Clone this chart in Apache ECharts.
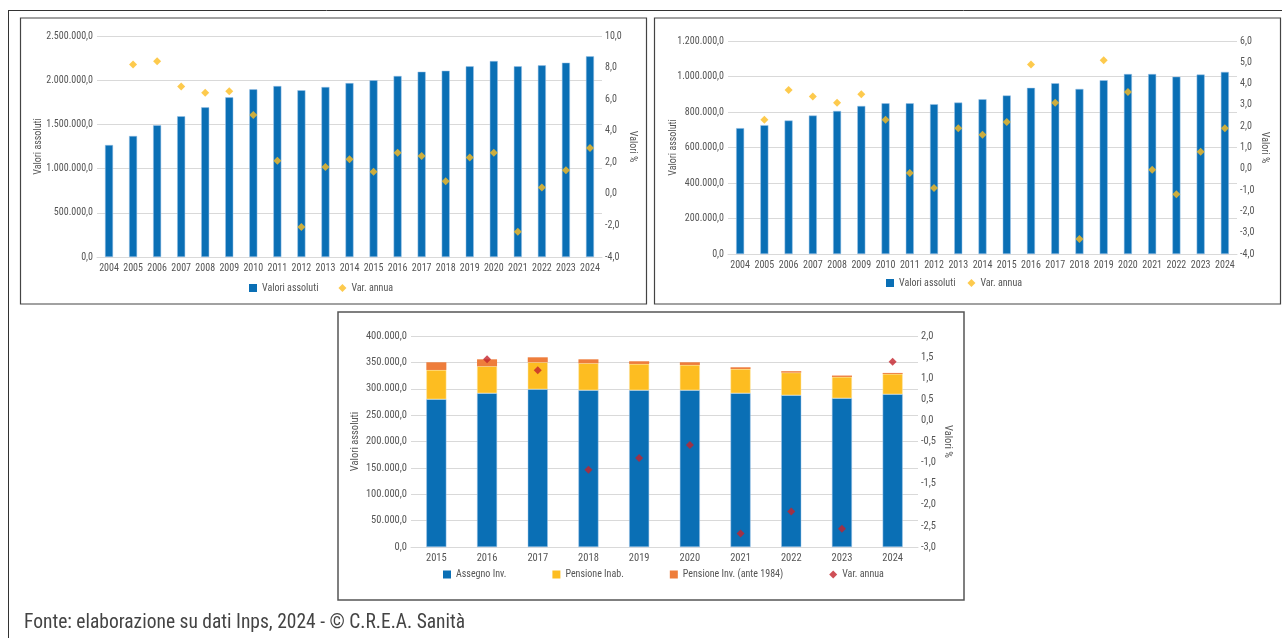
<!DOCTYPE html>
<html>
<head>
<meta charset="utf-8">
<script src="https://cdn.jsdelivr.net/npm/echarts@6/dist/echarts.min.js"></script>
<style>
  html, body { margin: 0; padding: 0; background: #fff; }
  #main { width: 1282px; height: 638px; }
</style>
</head>
<body>
<div id="main"></div>
<script>
// dati
var anniLungo = ['2004', '2005', '2006', '2007', '2008', '2009', '2010', '2011', '2012', '2013', '2014',
    '2015', '2016', '2017', '2018', '2019', '2020', '2021', '2022', '2023', '2024'];
var valoriSx = [1267000, 1369000, 1490000, 1592000, 1693000, 1806000, 1897000, 1934000, 1886000, 1923000, 1967000,
    1999000, 2048000, 2096000, 2107000, 2157000, 2217000, 2157000, 2168000, 2198000, 2270000];
var varSx = ['-', 8.2, 8.4, 6.8, 6.4, 6.5, 5.0, 2.1, -2.1, 1.7, 2.2, 1.4, 2.6, 2.4, 0.8, 2.3, 2.6, -2.4, 0.4, 1.5, 2.9];

var valoriDx = [709000, 726000, 752000, 780000, 806000, 834000, 849000, 849000, 844000, 853000, 872000,
    893000, 936000, 962000, 930000, 979000, 1014000, 1014000, 999000, 1011000, 1026000];
var varDx = ['-', 2.3, 3.7, 3.4, 3.1, 3.5, 2.3, -0.2, -0.9, 1.9, 1.6, 2.2, 4.9, 3.1, -3.3, 5.1, 3.6, -0.05, -1.2, 0.8, 1.9];

var anniBreve = ['2015', '2016', '2017', '2018', '2019', '2020', '2021', '2022', '2023', '2024'];
var assegnoInv = [280100, 291500, 299100, 297200, 297200, 297200, 291500, 287700, 282000, 289600];
var pensioneInab = [55500, 51100, 51100, 51100, 49800, 47900, 46000, 42900, 40400, 38500];
var pensioneAnte84 = [14600, 13200, 9400, 7500, 5100, 5100, 3200, 2700, 2600, 1900];
var varBasso = ['-', 1.45, 1.19, -1.17, -0.89, -0.58, -2.68, -2.16, -2.57, 1.39];

var FONT = '"Roboto Condensed", "Archivo Narrow", "DejaVu Sans Condensed", sans-serif';
var BLU = '#0a6fb5', GIALLO = '#fdbd21', ARANCIO = '#ee7d3b', ROSSO = '#c3232c';
var GRIGIO = '#555', LINEA = '#d9d9d9';

function fmtAss(v) {
    return Math.round(v).toString().replace(/\B(?=(\d{3})+(?!\d))/g, '.') + ',0';
}
function fmtPct(v) {
    return v.toFixed(1).replace('.', ',');
}

function asseX(idx, dati, fs) {
    return {
        type: 'category', gridIndex: idx, data: dati,
        axisTick: {show: false},
        axisLine: {lineStyle: {color: LINEA}},
        axisLabel: {interval: 0, color: GRIGIO, fontFamily: FONT, fontSize: fs, margin: 6}
    };
}
function asseSx(idx, max, step, fs, gap) {
    return {
        type: 'value', gridIndex: idx, min: 0, max: max, interval: step,
        name: 'Valori assoluti', nameLocation: 'middle', nameGap: gap, nameMoveOverlap: false,
        nameTextStyle: {color: GRIGIO, fontFamily: FONT, fontSize: fs},
        axisLine: {show: false}, axisTick: {show: false},
        splitLine: {lineStyle: {color: LINEA}},
        axisLabel: {color: GRIGIO, fontFamily: FONT, fontSize: fs, margin: 4, formatter: fmtAss}
    };
}
function asseDx(idx, min, max, step, fs, gap) {
    return {
        type: 'value', gridIndex: idx, position: 'right', min: min, max: max, interval: step,
        name: 'Valori %', nameLocation: 'middle', nameGap: gap, nameRotate: -90, nameMoveOverlap: false,
        nameTextStyle: {color: GRIGIO, fontFamily: FONT, fontSize: fs},
        axisLine: {show: false}, axisTick: {show: false}, splitLine: {show: false},
        axisLabel: {color: GRIGIO, fontFamily: FONT, fontSize: fs, margin: 3, formatter: fmtPct}
    };
}

var myChart = echarts.init(document.getElementById('main'));
var option = {
    animation: false,
    backgroundColor: '#fff',
    grid: [
        {left: 97, top: 36, width: 505, height: 221},
        {left: 728, top: 41, width: 509, height: 213},
        {left: 411, top: 336, width: 507, height: 211}
    ],
    xAxis: [
        asseX(0, anniLungo, 10),
        asseX(1, anniLungo, 10),
        asseX(2, anniBreve, 10.5)
    ],
    yAxis: [
        asseSx(0, 2500000, 500000, 10, 54),
        asseDx(0, -4, 10, 2, 10, 25),
        asseSx(1, 1200000, 200000, 10, 50),
        asseDx(1, -4, 6, 1, 10, 22),
        asseSx(2, 400000, 50000, 10.5, 50),
        asseDx(2, -3, 2, 0.5, 10.5, 24)
    ],
    legend: [
        {
            left: 249, top: 283, padding: 0, itemWidth: 8, itemHeight: 8, itemGap: 20,
            itemStyle: {borderWidth: 0},
            textStyle: {color: GRIGIO, fontFamily: FONT, fontSize: 10},
            data: [{name: 'Valori assoluti', icon: 'rect'}, {name: 'Var. annua', icon: 'diamond'}]
        },
        {
            left: 886, top: 278, padding: 0, itemWidth: 8, itemHeight: 8, itemGap: 12,
            itemStyle: {borderWidth: 0},
            textStyle: {color: GRIGIO, fontFamily: FONT, fontSize: 10},
            data: [{name: 'Valori assoluti', icon: 'rect'}, {name: 'Var. annua', icon: 'diamond'}]
        },
        {
            left: 443, top: 569.5, padding: 0, itemWidth: 8, itemHeight: 8, itemGap: 46,
            itemStyle: {borderWidth: 0},
            textStyle: {color: GRIGIO, fontFamily: FONT, fontSize: 10},
            data: [
                {name: 'Assegno Inv.', icon: 'rect'},
                {name: 'Pensione Inab.', icon: 'rect'},
                {name: 'Pensione Inv. (ante 1984)', icon: 'rect'},
                {name: 'Var. annua', icon: 'diamond', itemStyle: {color: ROSSO}}
            ]
        }
    ],
    series: [
        {
            name: 'Valori assoluti', type: 'bar', xAxisIndex: 0, yAxisIndex: 0, barWidth: 8,
            itemStyle: {color: BLU, borderColor: '#9ec5e8', borderWidth: 0.5}, data: valoriSx
        },
        {
            name: 'Var. annua', type: 'scatter', xAxisIndex: 0, yAxisIndex: 1,
            symbol: 'diamond', symbolSize: 8, itemStyle: {color: GIALLO}, data: varSx
        },
        {
            name: 'Valori assoluti', type: 'bar', xAxisIndex: 1, yAxisIndex: 2, barWidth: 8,
            itemStyle: {color: BLU, borderColor: '#9ec5e8', borderWidth: 0.5}, data: valoriDx
        },
        {
            name: 'Var. annua', type: 'scatter', xAxisIndex: 1, yAxisIndex: 3,
            symbol: 'diamond', symbolSize: 8, itemStyle: {color: GIALLO}, data: varDx
        },
        {
            name: 'Assegno Inv.', type: 'bar', stack: 'tot', xAxisIndex: 2, yAxisIndex: 4, barWidth: 20,
            itemStyle: {color: BLU, borderColor: '#9ec5e8', borderWidth: 0.5}, data: assegnoInv
        },
        {
            name: 'Pensione Inab.', type: 'bar', stack: 'tot', xAxisIndex: 2, yAxisIndex: 4, barWidth: 20,
            itemStyle: {color: GIALLO, borderColor: '#fde6a6', borderWidth: 0.5}, data: pensioneInab
        },
        {
            name: 'Pensione Inv. (ante 1984)', type: 'bar', stack: 'tot', xAxisIndex: 2, yAxisIndex: 4, barWidth: 20,
            itemStyle: {color: ARANCIO}, data: pensioneAnte84
        },
        {
            name: 'Var. annua', type: 'scatter', xAxisIndex: 2, yAxisIndex: 5,
            symbol: 'diamond', symbolSize: 8, itemStyle: {color: ROSSO}, data: varBasso
        }
    ],
    graphic: [
        // cornici
        {type: 'line', silent: true, shape: {x1: 8, y1: 10.5, x2: 1282, y2: 10.5}, style: {stroke: '#333', lineWidth: 1}},
        {type: 'line', silent: true, shape: {x1: 8.5, y1: 10, x2: 8.5, y2: 638}, style: {stroke: '#333', lineWidth: 1}},
        {type: 'rect', silent: true, shape: {x: 20.5, y: 18, width: 626, height: 286}, style: {fill: 'none', stroke: '#444', lineWidth: 1.2}},
        {type: 'rect', silent: true, shape: {x: 654.5, y: 18, width: 626, height: 286}, style: {fill: 'none', stroke: '#444', lineWidth: 1.2}},
        {type: 'rect', silent: true, shape: {x: 338, y: 312, width: 626, height: 288}, style: {fill: 'none', stroke: '#555', lineWidth: 1.5}},
        {
            type: 'text', left: 24, top: 613, silent: true,
            style: {text: 'Fonte: elaborazione su dati Inps, 2024 - © C.R.E.A. Sanità', fill: '#444', font: '19.5px ' + FONT}
        }
    ]
};
myChart.setOption(option);
</script>
</body>
</html>
